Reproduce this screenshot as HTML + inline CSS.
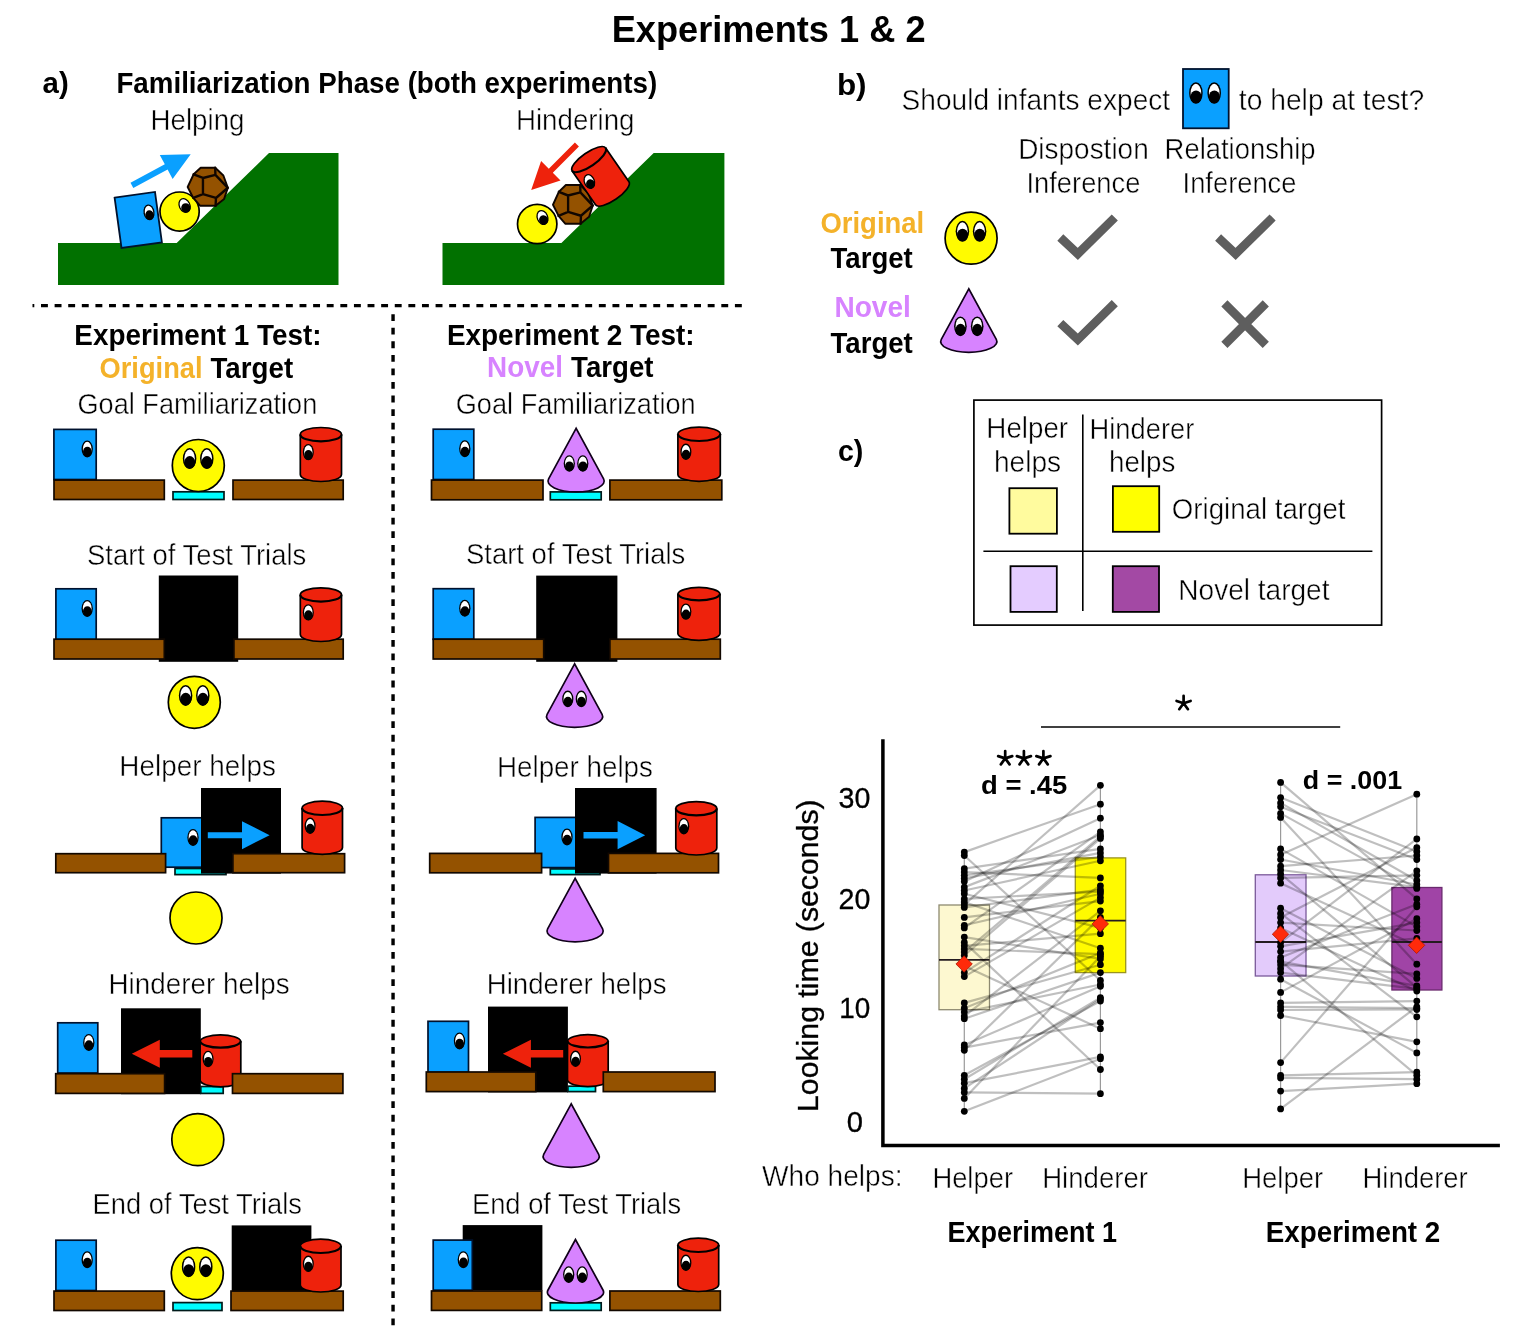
<!DOCTYPE html><html><head><meta charset="utf-8"><title>Experiments 1 &amp; 2</title><style>html,body{margin:0;padding:0;background:#fff;}svg{display:block;will-change:transform;}text{font-family:"Liberation Sans", sans-serif;}</style></head><body>
<svg width="1522" height="1330" viewBox="0 0 1522 1330">
<rect width="1522" height="1330" fill="#fff"/>
<text x="611.73" y="41.6" font-size="36.8" font-weight="bold" fill="#000" textLength="313.81" lengthAdjust="spacingAndGlyphs" >Experiments 1 &amp; 2</text>
<text x="42.60" y="93.3" font-size="29.5" font-weight="bold" fill="#000" textLength="26.12" lengthAdjust="spacingAndGlyphs" >a)</text>
<text x="116.44" y="93.0" font-size="28.8" font-weight="bold" fill="#000" textLength="540.73" lengthAdjust="spacingAndGlyphs" >Familiarization Phase (both experiments)</text>
<text x="150.56" y="129.8" font-size="28.6" font-weight="normal" fill="#000" textLength="93.91" lengthAdjust="spacingAndGlyphs" stroke="#fff" stroke-width="0.45">Helping</text>
<text x="515.96" y="129.8" font-size="28.6" font-weight="normal" fill="#000" textLength="118.51" lengthAdjust="spacingAndGlyphs" stroke="#fff" stroke-width="0.45">Hindering</text>
<path d="M58,243 L176.7,243 L269,153 L338.5,153 L338.5,285 L58,285 Z" fill="#017100"/>
<path d="M442.5,243 L561.4,243 L653.7,153 L724.4,153 L724.4,285 L442.5,285 Z" fill="#017100"/>
<path d="M114.6,197.7 L155,191.9 L161.9,242.5 L121.5,247.9 Z" fill="#0aa0ff" stroke="#00122e" stroke-width="1.8"/>
<g transform="translate(149.0,212.4) rotate(-8)"><ellipse rx="5.50" ry="8.00" fill="#000"/><ellipse rx="4.20" ry="6.70" fill="#fff"/><ellipse cx="0.15" cy="2.75" rx="4.25" ry="4.80" fill="#000"/></g>
<circle cx="179.6" cy="211.6" r="19.6" fill="#fffb00" stroke="#000" stroke-width="1.7"/>
<g transform="translate(184.6,205.5) rotate(-25)"><ellipse rx="5.90" ry="7.80" fill="#000"/><ellipse rx="4.60" ry="6.50" fill="#fff"/><ellipse cx="0.15" cy="2.67" rx="4.65" ry="4.68" fill="#000"/></g>
<g transform="translate(207.8,186.8) rotate(0) scale(0.95,0.985)"><path d="M-7.5,-19.4 L7.8,-19.4 L16.4,-11.5 L21.1,1.0 L17.2,12.3 L8.2,19.3 L-8.2,19.2 L-15.3,11.3 L-21.2,0.2 L-14.9,-12.7 Z" fill="#945200" stroke="#100600" stroke-width="2.0" stroke-linejoin="round"/><path d="M-14.9,-12.7 L-5.1,-9.0 M-5.1,-9.0 L8.0,-12.1 M8.0,-12.1 L7.8,-19.4 M8.0,-12.1 L21.1,1.0 M-5.1,-9.0 L-5.1,7.4 M-5.1,7.4 L-15.3,11.3 M-5.1,7.4 L8.6,11.3 M8.6,11.3 L21.1,1.0 M8.6,11.3 L8.2,19.3" fill="none" stroke="#100600" stroke-width="2.5" stroke-linecap="round"/></g>
<path d="M133.3,188.1 L167.6,169.6 L172.6,178.9 L190.7,154.3 L159.8,154.9 L164.8,164.2 L130.5,182.7 Z" fill="#0aa0ff"/>
<circle cx="537.2" cy="224" r="19.7" fill="#fffb00" stroke="#000" stroke-width="1.7"/>
<g transform="translate(542.5,217.5) rotate(-22)"><ellipse rx="5.80" ry="7.80" fill="#000"/><ellipse rx="4.50" ry="6.50" fill="#fff"/><ellipse cx="0.15" cy="2.67" rx="4.55" ry="4.68" fill="#000"/></g>
<g transform="translate(572.9,204.5) rotate(0) scale(0.94,1.0)"><path d="M-7.5,-19.4 L7.8,-19.4 L16.4,-11.5 L21.1,1.0 L17.2,12.3 L8.2,19.3 L-8.2,19.2 L-15.3,11.3 L-21.2,0.2 L-14.9,-12.7 Z" fill="#945200" stroke="#100600" stroke-width="2.0" stroke-linejoin="round"/><path d="M-14.9,-12.7 L-5.1,-9.0 M-5.1,-9.0 L8.0,-12.1 M8.0,-12.1 L7.8,-19.4 M8.0,-12.1 L21.1,1.0 M-5.1,-9.0 L-5.1,7.4 M-5.1,7.4 L-15.3,11.3 M-5.1,7.4 L8.6,11.3 M8.6,11.3 L21.1,1.0 M8.6,11.3 L8.2,19.3" fill="none" stroke="#100600" stroke-width="2.5" stroke-linecap="round"/></g>
<g transform="translate(588.9,159.4) rotate(-34.5)"><path d="M-20.3,0 L-20.3,41.2 A20.3,6.9 0 0 0 20.3,41.2 L20.3,0 A20.3,6.9 0 0 0 -20.3,0 Z" fill="#ee220c" stroke="#000" stroke-width="1.7"/><path d="M-20.3,0 A20.3,6.9 0 0 0 20.3,0" fill="none" stroke="#000" stroke-width="2.2"/></g>
<g transform="translate(589.4,181.5) rotate(-20)"><ellipse rx="5.60" ry="7.80" fill="#000"/><ellipse rx="4.30" ry="6.50" fill="#fff"/><ellipse cx="0.15" cy="2.67" rx="4.35" ry="4.68" fill="#000"/></g>
<path d="M574.9,142.5 L548.8,168.8 L541.1,161.1 L531.2,190.0 L560.5,180.5 L552.8,172.8 L578.9,146.5 Z" fill="#ee220c"/>
<line x1="32.5" y1="305.7" x2="741.9" y2="305.7" stroke="#000" stroke-width="3.3" stroke-dasharray="6.9 6.706" stroke-dashoffset="5.1"/>
<line x1="393.05" y1="314.2" x2="393.05" y2="1325.3" stroke="#000" stroke-width="3.4" stroke-dasharray="6.8 6.77"/>
<text x="74.33" y="345.3" font-size="28.6" font-weight="bold" fill="#000" textLength="247.13" lengthAdjust="spacingAndGlyphs" >Experiment 1 Test:</text>
<text x="99.55" y="377.5" font-size="28.6" font-weight="bold" fill="#f4b22a" textLength="103.01" lengthAdjust="spacingAndGlyphs" >Original</text>
<text x="210.50" y="377.5" font-size="28.6" font-weight="bold" fill="#000" textLength="82.64" lengthAdjust="spacingAndGlyphs" >Target</text>
<text x="77.46" y="413.8" font-size="28.8" font-weight="normal" fill="#000" textLength="239.80" lengthAdjust="spacingAndGlyphs" stroke="#fff" stroke-width="0.45">Goal Familiarization</text>
<rect x="53.9" y="429.4" width="42.3" height="50.1" fill="#0aa0ff" stroke="#00122e" stroke-width="1.7"/>
<g transform="translate(87.2,449.0) rotate(0)"><ellipse rx="5.65" ry="8.50" fill="#000"/><ellipse rx="4.35" ry="7.20" fill="#fff"/><ellipse cx="0.15" cy="2.95" rx="4.40" ry="5.10" fill="#000"/></g>
<rect x="54.0" y="480.1" width="110.3" height="19.4" fill="#945200" stroke="#120800" stroke-width="1.7"/>
<rect x="173.0" y="491.8" width="51.0" height="7.7" fill="#00fdff" stroke="#001a1a" stroke-width="1.7"/>
<circle cx="198.3" cy="465.5" r="26" fill="#fffb00" stroke="#000" stroke-width="1.7"/>
<g transform="translate(189.6,458.6) rotate(0)"><ellipse rx="6.75" ry="10.50" fill="#000"/><ellipse rx="5.25" ry="9.00" fill="#fff"/><ellipse cx="0.15" cy="3.75" rx="5.50" ry="6.30" fill="#000"/></g>
<g transform="translate(206.8,458.6) rotate(0)"><ellipse rx="6.75" ry="10.50" fill="#000"/><ellipse rx="5.25" ry="9.00" fill="#fff"/><ellipse cx="0.15" cy="3.75" rx="5.50" ry="6.30" fill="#000"/></g>
<rect x="233.0" y="480.1" width="110.2" height="19.4" fill="#945200" stroke="#120800" stroke-width="1.7"/>
<path d="M300.3,434.4 L300.3,474.6 A20.6,6.9 0 0 0 341.5,474.6 L341.5,434.4 A20.6,6.9 0 0 0 300.3,434.4 Z" fill="#ee220c" stroke="#000" stroke-width="1.7"/>
<path d="M300.3,434.4 A20.6,6.9 0 0 0 341.5,434.4" fill="none" stroke="#000" stroke-width="2.2"/>
<g transform="translate(308.3,452.1) rotate(0)"><ellipse rx="5.50" ry="8.20" fill="#000"/><ellipse rx="4.20" ry="6.90" fill="#fff"/><ellipse cx="0.15" cy="2.83" rx="4.25" ry="4.92" fill="#000"/></g>
<text x="86.95" y="564.9" font-size="28.8" font-weight="normal" fill="#000" textLength="219.33" lengthAdjust="spacingAndGlyphs" stroke="#fff" stroke-width="0.45">Start of Test Trials</text>
<rect x="55.9" y="588.8" width="40.3" height="50.8" fill="#0aa0ff" stroke="#00122e" stroke-width="1.7"/>
<g transform="translate(87.2,608.4) rotate(0)"><ellipse rx="5.65" ry="8.50" fill="#000"/><ellipse rx="4.35" ry="7.20" fill="#fff"/><ellipse cx="0.15" cy="2.95" rx="4.40" ry="5.10" fill="#000"/></g>
<rect x="158.8" y="575.5" width="79.4" height="86.3" fill="#000"/>
<rect x="54.0" y="639.2" width="110.3" height="19.8" fill="#945200" stroke="#120800" stroke-width="1.7"/>
<rect x="233.9" y="639.2" width="109.3" height="19.8" fill="#945200" stroke="#120800" stroke-width="1.7"/>
<path d="M300.3,594.7 L300.3,634.6 A20.6,6.9 0 0 0 341.5,634.6 L341.5,594.7 A20.6,6.9 0 0 0 300.3,594.7 Z" fill="#ee220c" stroke="#000" stroke-width="1.7"/>
<path d="M300.3,594.7 A20.6,6.9 0 0 0 341.5,594.7" fill="none" stroke="#000" stroke-width="2.2"/>
<g transform="translate(308.3,612.4) rotate(0)"><ellipse rx="5.50" ry="8.20" fill="#000"/><ellipse rx="4.20" ry="6.90" fill="#fff"/><ellipse cx="0.15" cy="2.83" rx="4.25" ry="4.92" fill="#000"/></g>
<circle cx="194.3" cy="702.3" r="26" fill="#fffb00" stroke="#000" stroke-width="1.7"/>
<g transform="translate(185.6,695.4) rotate(0)"><ellipse rx="6.75" ry="10.50" fill="#000"/><ellipse rx="5.25" ry="9.00" fill="#fff"/><ellipse cx="0.15" cy="3.75" rx="5.50" ry="6.30" fill="#000"/></g>
<g transform="translate(202.8,695.4) rotate(0)"><ellipse rx="6.75" ry="10.50" fill="#000"/><ellipse rx="5.25" ry="9.00" fill="#fff"/><ellipse cx="0.15" cy="3.75" rx="5.50" ry="6.30" fill="#000"/></g>
<text x="119.36" y="775.8" font-size="28.8" font-weight="normal" fill="#000" textLength="156.52" lengthAdjust="spacingAndGlyphs" stroke="#fff" stroke-width="0.45">Helper helps</text>
<rect x="175.0" y="868.5" width="51.0" height="6.1" fill="#00fdff" stroke="#001a1a" stroke-width="1.7"/>
<rect x="161.3" y="817.8" width="40.7" height="49.4" fill="#0aa0ff" stroke="#00122e" stroke-width="1.7"/>
<g transform="translate(193.0,837.4) rotate(0)"><ellipse rx="5.65" ry="8.50" fill="#000"/><ellipse rx="4.35" ry="7.20" fill="#fff"/><ellipse cx="0.15" cy="2.95" rx="4.40" ry="5.10" fill="#000"/></g>
<rect x="201.0" y="788.0" width="80.0" height="85.6" fill="#000"/>
<rect x="55.8" y="853.7" width="109.8" height="19.0" fill="#945200" stroke="#120800" stroke-width="1.7"/>
<rect x="232.9" y="853.7" width="111.7" height="19.0" fill="#945200" stroke="#120800" stroke-width="1.7"/>
<path d="M207.8,832.2 L242.0,832.2 L242.0,821.2 L269.6,835.2 L242.0,849.2 L242.0,838.2 L207.8,838.2 Z" fill="#0aa0ff"/>
<path d="M302.1,808.1 L302.1,847.4 A20.2,6.9 0 0 0 342.5,847.4 L342.5,808.1 A20.2,6.9 0 0 0 302.1,808.1 Z" fill="#ee220c" stroke="#000" stroke-width="1.7"/>
<path d="M302.1,808.1 A20.2,6.9 0 0 0 342.5,808.1" fill="none" stroke="#000" stroke-width="2.2"/>
<g transform="translate(310.1,825.8) rotate(0)"><ellipse rx="5.50" ry="8.20" fill="#000"/><ellipse rx="4.20" ry="6.90" fill="#fff"/><ellipse cx="0.15" cy="2.83" rx="4.25" ry="4.92" fill="#000"/></g>
<circle cx="196.0" cy="918.0" r="26" fill="#fffb00" stroke="#000" stroke-width="1.7"/>
<text x="108.47" y="993.7" font-size="28.8" font-weight="normal" fill="#000" textLength="181.12" lengthAdjust="spacingAndGlyphs" stroke="#fff" stroke-width="0.45">Hinderer helps</text>
<rect x="121.0" y="1008.3" width="79.8" height="85.9" fill="#000"/>
<rect x="57.7" y="1022.8" width="40.1" height="50.2" fill="#0aa0ff" stroke="#00122e" stroke-width="1.7"/>
<g transform="translate(88.8,1042.4) rotate(0)"><ellipse rx="5.65" ry="8.50" fill="#000"/><ellipse rx="4.35" ry="7.20" fill="#fff"/><ellipse cx="0.15" cy="2.95" rx="4.40" ry="5.10" fill="#000"/></g>
<rect x="55.7" y="1073.7" width="108.9" height="19.7" fill="#945200" stroke="#120800" stroke-width="1.7"/>
<rect x="200.8" y="1086.5" width="22.4" height="6.9" fill="#00fdff" stroke="#001a1a" stroke-width="1.7"/>
<path d="M200.1,1041.3 L200.1,1080.5 A20.4,6.9 0 0 0 240.8,1080.5 L240.8,1041.3 A20.4,6.9 0 0 0 200.1,1041.3 Z" fill="#ee220c" stroke="#000" stroke-width="1.7"/>
<path d="M200.1,1041.3 A20.4,6.9 0 0 0 240.8,1041.3" fill="none" stroke="#000" stroke-width="2.2"/>
<g transform="translate(208.1,1059.0) rotate(0)"><ellipse rx="5.50" ry="8.20" fill="#000"/><ellipse rx="4.20" ry="6.90" fill="#fff"/><ellipse cx="0.15" cy="2.83" rx="4.25" ry="4.92" fill="#000"/></g>
<rect x="232.5" y="1073.7" width="110.4" height="19.7" fill="#945200" stroke="#120800" stroke-width="1.7"/>
<path d="M192.3,1049.9 L159.8,1049.9 L159.8,1039.7 L131.8,1053.7 L159.8,1067.7 L159.8,1057.5 L192.3,1057.5 Z" fill="#ee220c"/>
<circle cx="197.8" cy="1139.6" r="26" fill="#fffb00" stroke="#000" stroke-width="1.7"/>
<text x="92.51" y="1213.7" font-size="28.8" font-weight="normal" fill="#000" textLength="209.47" lengthAdjust="spacingAndGlyphs" stroke="#fff" stroke-width="0.45">End of Test Trials</text>
<rect x="55.9" y="1240.2" width="40.3" height="50.3" fill="#0aa0ff" stroke="#00122e" stroke-width="1.7"/>
<g transform="translate(87.2,1259.8) rotate(0)"><ellipse rx="5.65" ry="8.50" fill="#000"/><ellipse rx="4.35" ry="7.20" fill="#fff"/><ellipse cx="0.15" cy="2.95" rx="4.40" ry="5.10" fill="#000"/></g>
<rect x="54.0" y="1291.1" width="110.3" height="19.4" fill="#945200" stroke="#120800" stroke-width="1.7"/>
<rect x="173.0" y="1302.6" width="49.0" height="7.9" fill="#00fdff" stroke="#001a1a" stroke-width="1.7"/>
<circle cx="197.3" cy="1273.6" r="26" fill="#fffb00" stroke="#000" stroke-width="1.7"/>
<g transform="translate(188.6,1266.7) rotate(0)"><ellipse rx="6.75" ry="10.50" fill="#000"/><ellipse rx="5.25" ry="9.00" fill="#fff"/><ellipse cx="0.15" cy="3.75" rx="5.50" ry="6.30" fill="#000"/></g>
<g transform="translate(205.8,1266.7) rotate(0)"><ellipse rx="6.75" ry="10.50" fill="#000"/><ellipse rx="5.25" ry="9.00" fill="#fff"/><ellipse cx="0.15" cy="3.75" rx="5.50" ry="6.30" fill="#000"/></g>
<rect x="231.7" y="1225.4" width="79.7" height="65.6" fill="#000"/>
<rect x="231.0" y="1291.1" width="112.2" height="19.4" fill="#945200" stroke="#120800" stroke-width="1.7"/>
<path d="M300.3,1246.1 L300.3,1285.1 A20.3,6.9 0 0 0 341.0,1285.1 L341.0,1246.1 A20.3,6.9 0 0 0 300.3,1246.1 Z" fill="#ee220c" stroke="#000" stroke-width="1.7"/>
<path d="M300.3,1246.1 A20.3,6.9 0 0 0 341.0,1246.1" fill="none" stroke="#000" stroke-width="2.2"/>
<g transform="translate(308.3,1263.8) rotate(0)"><ellipse rx="5.50" ry="8.20" fill="#000"/><ellipse rx="4.20" ry="6.90" fill="#fff"/><ellipse cx="0.15" cy="2.83" rx="4.25" ry="4.92" fill="#000"/></g>
<text x="446.92" y="345.0" font-size="28.6" font-weight="bold" fill="#000" textLength="247.74" lengthAdjust="spacingAndGlyphs" >Experiment 2 Test:</text>
<text x="487.03" y="377.2" font-size="28.6" font-weight="bold" fill="#d783ff" textLength="75.87" lengthAdjust="spacingAndGlyphs" >Novel</text>
<text x="571.10" y="377.2" font-size="28.6" font-weight="bold" fill="#000" textLength="82.34" lengthAdjust="spacingAndGlyphs" >Target</text>
<text x="455.76" y="414.3" font-size="28.8" font-weight="normal" fill="#000" textLength="239.95" lengthAdjust="spacingAndGlyphs" stroke="#fff" stroke-width="0.45">Goal Familiarization</text>
<rect x="433.2" y="429.2" width="40.6" height="50.3" fill="#0aa0ff" stroke="#00122e" stroke-width="1.7"/>
<g transform="translate(464.8,448.8) rotate(0)"><ellipse rx="5.65" ry="8.50" fill="#000"/><ellipse rx="4.35" ry="7.20" fill="#fff"/><ellipse cx="0.15" cy="2.95" rx="4.40" ry="5.10" fill="#000"/></g>
<rect x="431.5" y="480.1" width="111.5" height="19.7" fill="#945200" stroke="#120800" stroke-width="1.7"/>
<rect x="550.3" y="491.9" width="50.9" height="7.9" fill="#00fdff" stroke="#001a1a" stroke-width="1.7"/>
<path d="M576.1,428.4 L548.6,478.9 A28.1,10.8 0 1 0 603.6,478.9 Z" fill="#d783ff" stroke="#10001a" stroke-width="1.7" stroke-linejoin="miter"/>
<g transform="translate(569.3,463.5) rotate(0)"><ellipse rx="5.60" ry="8.30" fill="#000"/><ellipse rx="4.30" ry="7.00" fill="#fff"/><ellipse cx="0.15" cy="2.87" rx="4.35" ry="4.98" fill="#000"/></g>
<g transform="translate(582.8,463.5) rotate(0)"><ellipse rx="5.60" ry="8.30" fill="#000"/><ellipse rx="4.30" ry="7.00" fill="#fff"/><ellipse cx="0.15" cy="2.87" rx="4.35" ry="4.98" fill="#000"/></g>
<rect x="609.9" y="480.1" width="111.9" height="19.7" fill="#945200" stroke="#120800" stroke-width="1.7"/>
<path d="M677.9,434.1 L677.9,474.4 A21.2,6.9 0 0 0 720.3,474.4 L720.3,434.1 A21.2,6.9 0 0 0 677.9,434.1 Z" fill="#ee220c" stroke="#000" stroke-width="1.7"/>
<path d="M677.9,434.1 A21.2,6.9 0 0 0 720.3,434.1" fill="none" stroke="#000" stroke-width="2.2"/>
<g transform="translate(685.9,451.8) rotate(0)"><ellipse rx="5.50" ry="8.20" fill="#000"/><ellipse rx="4.20" ry="6.90" fill="#fff"/><ellipse cx="0.15" cy="2.83" rx="4.25" ry="4.92" fill="#000"/></g>
<text x="465.95" y="564.2" font-size="28.8" font-weight="normal" fill="#000" textLength="219.43" lengthAdjust="spacingAndGlyphs" stroke="#fff" stroke-width="0.45">Start of Test Trials</text>
<rect x="433.2" y="588.7" width="40.6" height="50.6" fill="#0aa0ff" stroke="#00122e" stroke-width="1.7"/>
<g transform="translate(464.8,608.3) rotate(0)"><ellipse rx="5.65" ry="8.50" fill="#000"/><ellipse rx="4.35" ry="7.20" fill="#fff"/><ellipse cx="0.15" cy="2.95" rx="4.40" ry="5.10" fill="#000"/></g>
<rect x="536.2" y="575.6" width="81.2" height="86.2" fill="#000"/>
<rect x="433.2" y="639.2" width="110.5" height="19.8" fill="#945200" stroke="#120800" stroke-width="1.7"/>
<rect x="609.9" y="639.2" width="110.4" height="19.8" fill="#945200" stroke="#120800" stroke-width="1.7"/>
<path d="M574.6,663.8 L547.1,714.3 A28.1,10.8 0 1 0 602.1,714.3 Z" fill="#d783ff" stroke="#10001a" stroke-width="1.7" stroke-linejoin="miter"/>
<g transform="translate(567.8,698.9) rotate(0)"><ellipse rx="5.60" ry="8.30" fill="#000"/><ellipse rx="4.30" ry="7.00" fill="#fff"/><ellipse cx="0.15" cy="2.87" rx="4.35" ry="4.98" fill="#000"/></g>
<g transform="translate(581.3,698.9) rotate(0)"><ellipse rx="5.60" ry="8.30" fill="#000"/><ellipse rx="4.30" ry="7.00" fill="#fff"/><ellipse cx="0.15" cy="2.87" rx="4.35" ry="4.98" fill="#000"/></g>
<path d="M677.9,593.9 L677.9,633.9 A21.1,6.9 0 0 0 720.0,633.9 L720.0,593.9 A21.1,6.9 0 0 0 677.9,593.9 Z" fill="#ee220c" stroke="#000" stroke-width="1.7"/>
<path d="M677.9,593.9 A21.1,6.9 0 0 0 720.0,593.9" fill="none" stroke="#000" stroke-width="2.2"/>
<g transform="translate(685.9,611.6) rotate(0)"><ellipse rx="5.50" ry="8.20" fill="#000"/><ellipse rx="4.20" ry="6.90" fill="#fff"/><ellipse cx="0.15" cy="2.83" rx="4.25" ry="4.92" fill="#000"/></g>
<text x="496.97" y="776.7" font-size="28.8" font-weight="normal" fill="#000" textLength="156.01" lengthAdjust="spacingAndGlyphs" stroke="#fff" stroke-width="0.45">Helper helps</text>
<rect x="550.3" y="868.9" width="49.7" height="5.7" fill="#00fdff" stroke="#001a1a" stroke-width="1.7"/>
<rect x="535.1" y="817.4" width="40.9" height="50.2" fill="#0aa0ff" stroke="#00122e" stroke-width="1.7"/>
<g transform="translate(567.0,837.0) rotate(0)"><ellipse rx="5.65" ry="8.50" fill="#000"/><ellipse rx="4.35" ry="7.20" fill="#fff"/><ellipse cx="0.15" cy="2.95" rx="4.40" ry="5.10" fill="#000"/></g>
<rect x="575.0" y="788.0" width="81.6" height="85.6" fill="#000"/>
<rect x="429.7" y="853.4" width="111.9" height="19.4" fill="#945200" stroke="#120800" stroke-width="1.7"/>
<rect x="608.5" y="853.4" width="110.0" height="19.4" fill="#945200" stroke="#120800" stroke-width="1.7"/>
<path d="M583.5,832.0 L617.6,832.0 L617.6,821.1 L645.2,835.2 L617.6,849.3 L617.6,838.4 L583.5,838.4 Z" fill="#0aa0ff"/>
<path d="M675.8,808.5 L675.8,848.1 A20.5,6.9 0 0 0 716.8,848.1 L716.8,808.5 A20.5,6.9 0 0 0 675.8,808.5 Z" fill="#ee220c" stroke="#000" stroke-width="1.7"/>
<path d="M675.8,808.5 A20.5,6.9 0 0 0 716.8,808.5" fill="none" stroke="#000" stroke-width="2.2"/>
<g transform="translate(683.8,826.2) rotate(0)"><ellipse rx="5.50" ry="8.20" fill="#000"/><ellipse rx="4.20" ry="6.90" fill="#fff"/><ellipse cx="0.15" cy="2.83" rx="4.25" ry="4.92" fill="#000"/></g>
<path d="M575.1,878.3 L547.6,928.8 A28.1,10.8 0 1 0 602.6,928.8 Z" fill="#d783ff" stroke="#10001a" stroke-width="1.7" stroke-linejoin="miter"/>
<text x="486.78" y="993.8" font-size="28.8" font-weight="normal" fill="#000" textLength="179.70" lengthAdjust="spacingAndGlyphs" stroke="#fff" stroke-width="0.45">Hinderer helps</text>
<rect x="488.0" y="1006.6" width="79.9" height="85.8" fill="#000"/>
<rect x="428.0" y="1021.3" width="40.5" height="51.1" fill="#0aa0ff" stroke="#00122e" stroke-width="1.7"/>
<g transform="translate(459.5,1040.9) rotate(0)"><ellipse rx="5.65" ry="8.50" fill="#000"/><ellipse rx="4.35" ry="7.20" fill="#fff"/><ellipse cx="0.15" cy="2.95" rx="4.40" ry="5.10" fill="#000"/></g>
<rect x="426.3" y="1072.0" width="109.5" height="19.6" fill="#945200" stroke="#120800" stroke-width="1.7"/>
<rect x="567.9" y="1086.2" width="27.6" height="5.4" fill="#00fdff" stroke="#001a1a" stroke-width="1.7"/>
<path d="M567.5,1041.1 L567.5,1080.2 A20.4,6.9 0 0 0 608.2,1080.2 L608.2,1041.1 A20.4,6.9 0 0 0 567.5,1041.1 Z" fill="#ee220c" stroke="#000" stroke-width="1.7"/>
<path d="M567.5,1041.1 A20.4,6.9 0 0 0 608.2,1041.1" fill="none" stroke="#000" stroke-width="2.2"/>
<g transform="translate(575.5,1058.8) rotate(0)"><ellipse rx="5.50" ry="8.20" fill="#000"/><ellipse rx="4.20" ry="6.90" fill="#fff"/><ellipse cx="0.15" cy="2.83" rx="4.25" ry="4.92" fill="#000"/></g>
<rect x="603.3" y="1072.0" width="111.7" height="19.6" fill="#945200" stroke="#120800" stroke-width="1.7"/>
<path d="M563.2,1050.0 L530.9,1050.0 L530.9,1039.8 L502.9,1053.8 L530.9,1067.8 L530.9,1057.5 L563.2,1057.5 Z" fill="#ee220c"/>
<path d="M571.2,1103.8 L543.7,1154.3 A28.1,10.8 0 1 0 598.7,1154.3 Z" fill="#d783ff" stroke="#10001a" stroke-width="1.7" stroke-linejoin="miter"/>
<text x="471.91" y="1213.8" font-size="28.8" font-weight="normal" fill="#000" textLength="209.17" lengthAdjust="spacingAndGlyphs" stroke="#fff" stroke-width="0.45">End of Test Trials</text>
<rect x="462.7" y="1225.1" width="79.7" height="65.5" fill="#000"/>
<rect x="433.2" y="1240.1" width="39.1" height="50.1" fill="#0aa0ff" stroke="#00122e" stroke-width="1.7"/>
<g transform="translate(463.3,1259.7) rotate(0)"><ellipse rx="5.65" ry="8.50" fill="#000"/><ellipse rx="4.35" ry="7.20" fill="#fff"/><ellipse cx="0.15" cy="2.95" rx="4.40" ry="5.10" fill="#000"/></g>
<rect x="431.5" y="1291.0" width="110.2" height="19.4" fill="#945200" stroke="#120800" stroke-width="1.7"/>
<rect x="550.3" y="1302.8" width="50.9" height="7.6" fill="#00fdff" stroke="#001a1a" stroke-width="1.7"/>
<path d="M575.5,1239.5 L548.0,1290.0 A28.1,10.8 0 1 0 603.0,1290.0 Z" fill="#d783ff" stroke="#10001a" stroke-width="1.7" stroke-linejoin="miter"/>
<g transform="translate(568.7,1274.6) rotate(0)"><ellipse rx="5.60" ry="8.30" fill="#000"/><ellipse rx="4.30" ry="7.00" fill="#fff"/><ellipse cx="0.15" cy="2.87" rx="4.35" ry="4.98" fill="#000"/></g>
<g transform="translate(582.2,1274.6) rotate(0)"><ellipse rx="5.60" ry="8.30" fill="#000"/><ellipse rx="4.30" ry="7.00" fill="#fff"/><ellipse cx="0.15" cy="2.87" rx="4.35" ry="4.98" fill="#000"/></g>
<rect x="609.9" y="1291.0" width="110.4" height="19.4" fill="#945200" stroke="#120800" stroke-width="1.7"/>
<path d="M677.9,1245.1 L677.9,1284.6 A20.4,6.9 0 0 0 718.7,1284.6 L718.7,1245.1 A20.4,6.9 0 0 0 677.9,1245.1 Z" fill="#ee220c" stroke="#000" stroke-width="1.7"/>
<path d="M677.9,1245.1 A20.4,6.9 0 0 0 718.7,1245.1" fill="none" stroke="#000" stroke-width="2.2"/>
<g transform="translate(685.9,1262.8) rotate(0)"><ellipse rx="5.50" ry="8.20" fill="#000"/><ellipse rx="4.20" ry="6.90" fill="#fff"/><ellipse cx="0.15" cy="2.83" rx="4.25" ry="4.92" fill="#000"/></g>
<text x="836.94" y="94.7" font-size="29.5" font-weight="bold" fill="#000" textLength="29.64" lengthAdjust="spacingAndGlyphs" >b)</text>
<text x="901.62" y="109.5" font-size="28.8" font-weight="normal" fill="#000" textLength="268.48" lengthAdjust="spacingAndGlyphs" stroke="#fff" stroke-width="0.45">Should infants expect</text>
<rect x="1183" y="69" width="45.7" height="59.3" fill="#0aa0ff" stroke="#00122e" stroke-width="1.8"/>
<g transform="translate(1195.9,93.0) rotate(0)"><ellipse rx="6.80" ry="10.80" fill="#000"/><ellipse rx="5.30" ry="9.30" fill="#fff"/><ellipse cx="0.15" cy="3.87" rx="5.55" ry="6.48" fill="#000"/></g>
<g transform="translate(1214.2,93.0) rotate(0)"><ellipse rx="6.80" ry="10.80" fill="#000"/><ellipse rx="5.30" ry="9.30" fill="#fff"/><ellipse cx="0.15" cy="3.87" rx="5.55" ry="6.48" fill="#000"/></g>
<text x="1238.80" y="109.5" font-size="28.8" font-weight="normal" fill="#000" textLength="185.30" lengthAdjust="spacingAndGlyphs" stroke="#fff" stroke-width="0.45">to help at test?</text>
<text x="1018.16" y="159.4" font-size="28.8" font-weight="normal" fill="#000" textLength="130.53" lengthAdjust="spacingAndGlyphs" stroke="#fff" stroke-width="0.45">Dispostion</text>
<text x="1026.50" y="193.0" font-size="28.8" font-weight="normal" fill="#000" textLength="113.86" lengthAdjust="spacingAndGlyphs" stroke="#fff" stroke-width="0.45">Inference</text>
<text x="1164.59" y="159.4" font-size="28.8" font-weight="normal" fill="#000" textLength="150.97" lengthAdjust="spacingAndGlyphs" stroke="#fff" stroke-width="0.45">Relationship</text>
<text x="1182.60" y="193.0" font-size="28.8" font-weight="normal" fill="#000" textLength="113.86" lengthAdjust="spacingAndGlyphs" stroke="#fff" stroke-width="0.45">Inference</text>
<text x="820.45" y="232.5" font-size="28.8" font-weight="bold" fill="#f4b22a" textLength="103.76" lengthAdjust="spacingAndGlyphs" >Original</text>
<text x="830.50" y="268.0" font-size="28.8" font-weight="bold" fill="#000" textLength="82.31" lengthAdjust="spacingAndGlyphs" >Target</text>
<text x="834.43" y="317.2" font-size="28.8" font-weight="bold" fill="#d783ff" textLength="76.42" lengthAdjust="spacingAndGlyphs" >Novel</text>
<text x="830.50" y="352.9" font-size="28.8" font-weight="bold" fill="#000" textLength="82.31" lengthAdjust="spacingAndGlyphs" >Target</text>
<circle cx="971.1" cy="238.2" r="26" fill="#fffb00" stroke="#000" stroke-width="1.7"/>
<g transform="translate(962.4,231.3) rotate(0)"><ellipse rx="6.75" ry="10.50" fill="#000"/><ellipse rx="5.25" ry="9.00" fill="#fff"/><ellipse cx="0.15" cy="3.75" rx="5.50" ry="6.30" fill="#000"/></g>
<g transform="translate(979.6,231.3) rotate(0)"><ellipse rx="6.75" ry="10.50" fill="#000"/><ellipse rx="5.25" ry="9.00" fill="#fff"/><ellipse cx="0.15" cy="3.75" rx="5.50" ry="6.30" fill="#000"/></g>
<path d="M968.8,288.8 L941.3,339.3 A28.1,10.8 0 1 0 996.3,339.3 Z" fill="#d783ff" stroke="#10001a" stroke-width="1.7" stroke-linejoin="miter"/>
<g transform="translate(960.4,326.3) rotate(0)"><ellipse rx="6.30" ry="9.90" fill="#000"/><ellipse rx="4.80" ry="8.40" fill="#fff"/><ellipse cx="0.15" cy="3.51" rx="5.05" ry="5.94" fill="#000"/></g>
<g transform="translate(977.2,326.3) rotate(0)"><ellipse rx="6.30" ry="9.90" fill="#000"/><ellipse rx="4.80" ry="8.40" fill="#fff"/><ellipse cx="0.15" cy="3.51" rx="5.05" ry="5.94" fill="#000"/></g>
<path d="M1060.3,237.5 L1077.8,253.9 L1114.8,217.5" fill="none" stroke="#5e5e5e" stroke-width="8.7" stroke-linejoin="miter"/>
<path d="M1218.1,237.5 L1235.6,253.9 L1272.6,217.5" fill="none" stroke="#5e5e5e" stroke-width="8.7" stroke-linejoin="miter"/>
<path d="M1060.3,323.1 L1077.8,339.5 L1114.8,303.1" fill="none" stroke="#5e5e5e" stroke-width="8.7" stroke-linejoin="miter"/>
<path d="M1224.4,303.4 L1265.8,344.8 M1265.8,303.4 L1224.4,344.8" fill="none" stroke="#5e5e5e" stroke-width="8.7"/>
<text x="837.93" y="460.8" font-size="29.5" font-weight="bold" fill="#000" textLength="25.47" lengthAdjust="spacingAndGlyphs" >c)</text>
<rect x="973.9" y="400.1" width="407.7" height="225" fill="none" stroke="#000" stroke-width="1.7"/>
<line x1="1082.8" y1="414.4" x2="1082.8" y2="611.1" stroke="#000" stroke-width="1.6"/>
<line x1="983.4" y1="551.2" x2="1372.4" y2="551.2" stroke="#000" stroke-width="1.6"/>
<rect x="1009.4" y="488.2" width="47.5" height="45.5" fill="#fffb9e" stroke="#000" stroke-width="1.8"/>
<rect x="1112.9" y="486.2" width="46.3" height="45.6" fill="#ffff00" stroke="#000" stroke-width="1.8"/>
<rect x="1010.5" y="566.2" width="46.3" height="45.7" fill="#e4ccff" stroke="#000" stroke-width="1.8"/>
<rect x="1112.8" y="566.2" width="46.2" height="45.7" fill="#a349a4" stroke="#000" stroke-width="1.8"/>
<text x="986.37" y="438.1" font-size="28.8" font-weight="normal" fill="#000" textLength="81.73" lengthAdjust="spacingAndGlyphs" stroke="#fff" stroke-width="0.45">Helper</text>
<text x="993.95" y="471.5" font-size="28.8" font-weight="normal" fill="#000" textLength="67.24" lengthAdjust="spacingAndGlyphs" stroke="#fff" stroke-width="0.45">helps</text>
<text x="1089.61" y="438.8" font-size="28.8" font-weight="normal" fill="#000" textLength="104.61" lengthAdjust="spacingAndGlyphs" stroke="#fff" stroke-width="0.45">Hinderer</text>
<text x="1108.97" y="472.0" font-size="28.8" font-weight="normal" fill="#000" textLength="66.31" lengthAdjust="spacingAndGlyphs" stroke="#fff" stroke-width="0.45">helps</text>
<text x="1171.84" y="518.8" font-size="28.8" font-weight="normal" fill="#000" textLength="173.66" lengthAdjust="spacingAndGlyphs" stroke="#fff" stroke-width="0.45">Original target</text>
<text x="1178.35" y="599.8" font-size="28.8" font-weight="normal" fill="#000" textLength="151.15" lengthAdjust="spacingAndGlyphs" stroke="#fff" stroke-width="0.45">Novel target</text>
<line x1="1041" y1="726.9" x2="1340.2" y2="726.9" stroke="#000" stroke-width="1.5"/>
<path d="M1183.6,703.2 L1183.60,695.80 M1183.6,703.2 L1190.64,700.91 M1183.6,703.2 L1187.95,709.19 M1183.6,703.2 L1179.25,709.19 M1183.6,703.2 L1176.56,700.91" stroke="#000" stroke-width="2.7" stroke-linecap="round" fill="none"/>
<path d="M1005.2,758.4 L1005.20,751.00 M1005.2,758.4 L1012.24,756.11 M1005.2,758.4 L1009.55,764.39 M1005.2,758.4 L1000.85,764.39 M1005.2,758.4 L998.16,756.11" stroke="#000" stroke-width="2.7" stroke-linecap="round" fill="none"/>
<path d="M1023.9,758.4 L1023.90,751.00 M1023.9,758.4 L1030.94,756.11 M1023.9,758.4 L1028.25,764.39 M1023.9,758.4 L1019.55,764.39 M1023.9,758.4 L1016.86,756.11" stroke="#000" stroke-width="2.7" stroke-linecap="round" fill="none"/>
<path d="M1043.4,758.4 L1043.40,751.00 M1043.4,758.4 L1050.44,756.11 M1043.4,758.4 L1047.75,764.39 M1043.4,758.4 L1039.05,764.39 M1043.4,758.4 L1036.36,756.11" stroke="#000" stroke-width="2.7" stroke-linecap="round" fill="none"/>
<text x="981.00" y="794.2" font-size="25" font-weight="bold" fill="#000" textLength="86.19" lengthAdjust="spacingAndGlyphs" >d = .45</text>
<text x="1302.85" y="789.4" font-size="25.5" font-weight="bold" fill="#000" textLength="99.24" lengthAdjust="spacingAndGlyphs" >d = .001</text>
<line x1="964.3" y1="852.1" x2="964.3" y2="1111.3" stroke="#9a9a9a" stroke-width="1.2"/>
<line x1="1100.4" y1="785.3" x2="1100.4" y2="1093.7" stroke="#9a9a9a" stroke-width="1.2"/>
<line x1="1280.6" y1="782.4" x2="1280.6" y2="1108.9" stroke="#9a9a9a" stroke-width="1.2"/>
<line x1="1416.8" y1="794.2" x2="1416.8" y2="1083.7" stroke="#9a9a9a" stroke-width="1.2"/>
<rect x="939" y="905" width="50.5" height="104.7" fill="#fdf8d0" fill-opacity="1" stroke="#8e8a70" stroke-width="1.3"/>
<rect x="1075.3" y="857.9" width="50.4" height="114.7" fill="#fffa00" fill-opacity="1" stroke="#9a9420" stroke-width="1.3"/>
<rect x="1255.3" y="874.8" width="50.7" height="101.2" fill="#e3cbfb" fill-opacity="1" stroke="#7a5a9a" stroke-width="1.3"/>
<rect x="1391.9" y="887.5" width="50.0" height="102.5" fill="#a044a6" fill-opacity="1" stroke="#6a2a6e" stroke-width="1.3"/>
<line x1="939" y1="959.9" x2="989.5" y2="959.9" stroke="#241c20" stroke-width="1.8"/>
<line x1="1075.3" y1="920.6" x2="1125.7" y2="920.6" stroke="#241c20" stroke-width="1.8"/>
<line x1="1255.3" y1="942" x2="1306" y2="942" stroke="#241c20" stroke-width="1.8"/>
<line x1="1391.9" y1="942" x2="1441.9" y2="942" stroke="#241c20" stroke-width="1.8"/>
<g stroke="#000" stroke-opacity="0.25" stroke-width="2.2" fill="none">
<line x1="964.3" y1="1111.3" x2="1100.4" y2="1058.7"/>
<line x1="964.3" y1="1092.4" x2="1100.4" y2="1093.7"/>
<line x1="964.3" y1="1083.2" x2="1100.4" y2="1056.8"/>
<line x1="964.3" y1="1047.6" x2="1100.4" y2="1022.6"/>
<line x1="964.3" y1="942.4" x2="1100.4" y2="1069.5"/>
<line x1="964.3" y1="966.1" x2="1100.4" y2="1028.7"/>
<line x1="964.3" y1="904.7" x2="1100.4" y2="785.3"/>
<line x1="964.3" y1="881.6" x2="1100.4" y2="818.2"/>
<line x1="964.3" y1="852.1" x2="1100.4" y2="804.2"/>
<line x1="964.3" y1="855.5" x2="1100.4" y2="980.5"/>
<line x1="964.3" y1="927.9" x2="1100.4" y2="831.8"/>
<line x1="964.3" y1="887.1" x2="1100.4" y2="835.0"/>
<line x1="964.3" y1="952.1" x2="1100.4" y2="836.3"/>
<line x1="964.3" y1="955.5" x2="1100.4" y2="838.4"/>
<line x1="964.3" y1="868.7" x2="1100.4" y2="848.9"/>
<line x1="964.3" y1="878.4" x2="1100.4" y2="852.9"/>
<line x1="964.3" y1="875.3" x2="1100.4" y2="856.8"/>
<line x1="964.3" y1="890.5" x2="1100.4" y2="860.8"/>
<line x1="964.3" y1="872.1" x2="1100.4" y2="877.9"/>
<line x1="964.3" y1="972.6" x2="1100.4" y2="885.8"/>
<line x1="964.3" y1="907.4" x2="1100.4" y2="889.7"/>
<line x1="964.3" y1="898.9" x2="1100.4" y2="891.6"/>
<line x1="964.3" y1="925.3" x2="1100.4" y2="893.7"/>
<line x1="964.3" y1="976.6" x2="1100.4" y2="897.6"/>
<line x1="964.3" y1="917.4" x2="1100.4" y2="901.1"/>
<line x1="964.3" y1="1016.1" x2="1100.4" y2="910.8"/>
<line x1="964.3" y1="1050.3" x2="1100.4" y2="917.4"/>
<line x1="964.3" y1="893.7" x2="1100.4" y2="927.9"/>
<line x1="964.3" y1="945.8" x2="1100.4" y2="933.7"/>
<line x1="964.3" y1="902.1" x2="1100.4" y2="948.2"/>
<line x1="964.3" y1="1008.2" x2="1100.4" y2="952.9"/>
<line x1="964.3" y1="948.9" x2="1100.4" y2="954.2"/>
<line x1="964.3" y1="1098.4" x2="1100.4" y2="956.3"/>
<line x1="964.3" y1="937.1" x2="1100.4" y2="958.9"/>
<line x1="964.3" y1="1002.9" x2="1100.4" y2="964.7"/>
<line x1="964.3" y1="1018.7" x2="1100.4" y2="972.6"/>
<line x1="964.3" y1="1012.1" x2="1100.4" y2="984.5"/>
<line x1="964.3" y1="1045.0" x2="1100.4" y2="986.3"/>
<line x1="964.3" y1="1079.2" x2="1100.4" y2="997.6"/>
<line x1="964.3" y1="1088.4" x2="1100.4" y2="998.9"/>
<line x1="964.3" y1="1075.3" x2="1100.4" y2="1001.1"/>
<line x1="1280.6" y1="1108.9" x2="1416.8" y2="1006.8"/>
<line x1="1280.6" y1="1091.1" x2="1416.8" y2="1083.7"/>
<line x1="1280.6" y1="1075.3" x2="1416.8" y2="1072.1"/>
<line x1="1280.6" y1="1077.9" x2="1416.8" y2="1079.2"/>
<line x1="1280.6" y1="854.7" x2="1416.8" y2="794.2"/>
<line x1="1280.6" y1="782.4" x2="1416.8" y2="898.9"/>
<line x1="1280.6" y1="806.8" x2="1416.8" y2="859.5"/>
<line x1="1280.6" y1="1062.6" x2="1416.8" y2="906.8"/>
<line x1="1280.6" y1="1015.5" x2="1416.8" y2="1041.8"/>
<line x1="1280.6" y1="979.2" x2="1416.8" y2="1052.9"/>
<line x1="1280.6" y1="960.8" x2="1416.8" y2="1075.3"/>
<line x1="1280.6" y1="913.4" x2="1416.8" y2="1016.8"/>
<line x1="1280.6" y1="1002.9" x2="1416.8" y2="1001.1"/>
<line x1="1280.6" y1="1006.8" x2="1416.8" y2="1008.2"/>
<line x1="1280.6" y1="1010.0" x2="1416.8" y2="1009.5"/>
<line x1="1280.6" y1="992.4" x2="1416.8" y2="918.7"/>
<line x1="1280.6" y1="942.4" x2="1416.8" y2="838.9"/>
<line x1="1280.6" y1="917.4" x2="1416.8" y2="847.6"/>
<line x1="1280.6" y1="797.6" x2="1416.8" y2="851.6"/>
<line x1="1280.6" y1="866.1" x2="1416.8" y2="855.5"/>
<line x1="1280.6" y1="968.7" x2="1416.8" y2="870.8"/>
<line x1="1280.6" y1="877.9" x2="1416.8" y2="875.3"/>
<line x1="1280.6" y1="802.9" x2="1416.8" y2="880.5"/>
<line x1="1280.6" y1="859.5" x2="1416.8" y2="884.5"/>
<line x1="1280.6" y1="870.0" x2="1416.8" y2="887.1"/>
<line x1="1280.6" y1="813.4" x2="1416.8" y2="888.4"/>
<line x1="1280.6" y1="957.4" x2="1416.8" y2="904.2"/>
<line x1="1280.6" y1="946.3" x2="1416.8" y2="922.6"/>
<line x1="1280.6" y1="848.9" x2="1416.8" y2="926.6"/>
<line x1="1280.6" y1="922.6" x2="1416.8" y2="930.5"/>
<line x1="1280.6" y1="951.6" x2="1416.8" y2="938.4"/>
<line x1="1280.6" y1="883.2" x2="1416.8" y2="945.8"/>
<line x1="1280.6" y1="817.4" x2="1416.8" y2="964.2"/>
<line x1="1280.6" y1="964.7" x2="1416.8" y2="973.9"/>
<line x1="1280.6" y1="908.2" x2="1416.8" y2="978.4"/>
<line x1="1280.6" y1="961.6" x2="1416.8" y2="985.8"/>
<line x1="1280.6" y1="873.9" x2="1416.8" y2="987.4"/>
<line x1="1280.6" y1="972.6" x2="1416.8" y2="988.9"/>
<line x1="1280.6" y1="927.9" x2="1416.8" y2="991.1"/>
</g>
<g fill="#000">
<circle cx="964.3" cy="852.1" r="3.4"/>
<circle cx="964.3" cy="855.5" r="3.4"/>
<circle cx="964.3" cy="868.7" r="3.4"/>
<circle cx="964.3" cy="872.1" r="3.4"/>
<circle cx="964.3" cy="875.3" r="3.4"/>
<circle cx="964.3" cy="878.4" r="3.4"/>
<circle cx="964.3" cy="881.6" r="3.4"/>
<circle cx="964.3" cy="887.1" r="3.4"/>
<circle cx="964.3" cy="890.5" r="3.4"/>
<circle cx="964.3" cy="893.7" r="3.4"/>
<circle cx="964.3" cy="898.9" r="3.4"/>
<circle cx="964.3" cy="902.1" r="3.4"/>
<circle cx="964.3" cy="904.7" r="3.4"/>
<circle cx="964.3" cy="907.4" r="3.4"/>
<circle cx="964.3" cy="917.4" r="3.4"/>
<circle cx="964.3" cy="925.3" r="3.4"/>
<circle cx="964.3" cy="927.9" r="3.4"/>
<circle cx="964.3" cy="937.1" r="3.4"/>
<circle cx="964.3" cy="942.4" r="3.4"/>
<circle cx="964.3" cy="945.8" r="3.4"/>
<circle cx="964.3" cy="948.9" r="3.4"/>
<circle cx="964.3" cy="952.1" r="3.4"/>
<circle cx="964.3" cy="955.5" r="3.4"/>
<circle cx="964.3" cy="966.1" r="3.4"/>
<circle cx="964.3" cy="972.6" r="3.4"/>
<circle cx="964.3" cy="976.6" r="3.4"/>
<circle cx="964.3" cy="1002.9" r="3.4"/>
<circle cx="964.3" cy="1008.2" r="3.4"/>
<circle cx="964.3" cy="1012.1" r="3.4"/>
<circle cx="964.3" cy="1016.1" r="3.4"/>
<circle cx="964.3" cy="1018.7" r="3.4"/>
<circle cx="964.3" cy="1045.0" r="3.4"/>
<circle cx="964.3" cy="1047.6" r="3.4"/>
<circle cx="964.3" cy="1050.3" r="3.4"/>
<circle cx="964.3" cy="1075.3" r="3.4"/>
<circle cx="964.3" cy="1079.2" r="3.4"/>
<circle cx="964.3" cy="1083.2" r="3.4"/>
<circle cx="964.3" cy="1088.4" r="3.4"/>
<circle cx="964.3" cy="1092.4" r="3.4"/>
<circle cx="964.3" cy="1098.4" r="3.4"/>
<circle cx="964.3" cy="1111.3" r="3.4"/>
<circle cx="1100.4" cy="785.3" r="3.4"/>
<circle cx="1100.4" cy="804.2" r="3.4"/>
<circle cx="1100.4" cy="818.2" r="3.4"/>
<circle cx="1100.4" cy="831.8" r="3.4"/>
<circle cx="1100.4" cy="835.0" r="3.4"/>
<circle cx="1100.4" cy="836.3" r="3.4"/>
<circle cx="1100.4" cy="838.4" r="3.4"/>
<circle cx="1100.4" cy="848.9" r="3.4"/>
<circle cx="1100.4" cy="852.9" r="3.4"/>
<circle cx="1100.4" cy="856.8" r="3.4"/>
<circle cx="1100.4" cy="860.8" r="3.4"/>
<circle cx="1100.4" cy="877.9" r="3.4"/>
<circle cx="1100.4" cy="885.8" r="3.4"/>
<circle cx="1100.4" cy="889.7" r="3.4"/>
<circle cx="1100.4" cy="891.6" r="3.4"/>
<circle cx="1100.4" cy="893.7" r="3.4"/>
<circle cx="1100.4" cy="897.6" r="3.4"/>
<circle cx="1100.4" cy="901.1" r="3.4"/>
<circle cx="1100.4" cy="910.8" r="3.4"/>
<circle cx="1100.4" cy="917.4" r="3.4"/>
<circle cx="1100.4" cy="927.9" r="3.4"/>
<circle cx="1100.4" cy="933.7" r="3.4"/>
<circle cx="1100.4" cy="948.2" r="3.4"/>
<circle cx="1100.4" cy="952.9" r="3.4"/>
<circle cx="1100.4" cy="954.2" r="3.4"/>
<circle cx="1100.4" cy="956.3" r="3.4"/>
<circle cx="1100.4" cy="958.9" r="3.4"/>
<circle cx="1100.4" cy="964.7" r="3.4"/>
<circle cx="1100.4" cy="972.6" r="3.4"/>
<circle cx="1100.4" cy="980.5" r="3.4"/>
<circle cx="1100.4" cy="984.5" r="3.4"/>
<circle cx="1100.4" cy="986.3" r="3.4"/>
<circle cx="1100.4" cy="997.6" r="3.4"/>
<circle cx="1100.4" cy="998.9" r="3.4"/>
<circle cx="1100.4" cy="1001.1" r="3.4"/>
<circle cx="1100.4" cy="1022.6" r="3.4"/>
<circle cx="1100.4" cy="1028.7" r="3.4"/>
<circle cx="1100.4" cy="1056.8" r="3.4"/>
<circle cx="1100.4" cy="1058.7" r="3.4"/>
<circle cx="1100.4" cy="1069.5" r="3.4"/>
<circle cx="1100.4" cy="1093.7" r="3.4"/>
<circle cx="1280.6" cy="782.4" r="3.4"/>
<circle cx="1280.6" cy="797.6" r="3.4"/>
<circle cx="1280.6" cy="802.9" r="3.4"/>
<circle cx="1280.6" cy="806.8" r="3.4"/>
<circle cx="1280.6" cy="813.4" r="3.4"/>
<circle cx="1280.6" cy="817.4" r="3.4"/>
<circle cx="1280.6" cy="848.9" r="3.4"/>
<circle cx="1280.6" cy="854.7" r="3.4"/>
<circle cx="1280.6" cy="859.5" r="3.4"/>
<circle cx="1280.6" cy="866.1" r="3.4"/>
<circle cx="1280.6" cy="870.0" r="3.4"/>
<circle cx="1280.6" cy="873.9" r="3.4"/>
<circle cx="1280.6" cy="877.9" r="3.4"/>
<circle cx="1280.6" cy="883.2" r="3.4"/>
<circle cx="1280.6" cy="908.2" r="3.4"/>
<circle cx="1280.6" cy="913.4" r="3.4"/>
<circle cx="1280.6" cy="917.4" r="3.4"/>
<circle cx="1280.6" cy="922.6" r="3.4"/>
<circle cx="1280.6" cy="927.9" r="3.4"/>
<circle cx="1280.6" cy="942.4" r="3.4"/>
<circle cx="1280.6" cy="946.3" r="3.4"/>
<circle cx="1280.6" cy="951.6" r="3.4"/>
<circle cx="1280.6" cy="957.4" r="3.4"/>
<circle cx="1280.6" cy="960.8" r="3.4"/>
<circle cx="1280.6" cy="961.6" r="3.4"/>
<circle cx="1280.6" cy="964.7" r="3.4"/>
<circle cx="1280.6" cy="968.7" r="3.4"/>
<circle cx="1280.6" cy="972.6" r="3.4"/>
<circle cx="1280.6" cy="979.2" r="3.4"/>
<circle cx="1280.6" cy="992.4" r="3.4"/>
<circle cx="1280.6" cy="1002.9" r="3.4"/>
<circle cx="1280.6" cy="1006.8" r="3.4"/>
<circle cx="1280.6" cy="1010.0" r="3.4"/>
<circle cx="1280.6" cy="1015.5" r="3.4"/>
<circle cx="1280.6" cy="1062.6" r="3.4"/>
<circle cx="1280.6" cy="1075.3" r="3.4"/>
<circle cx="1280.6" cy="1077.9" r="3.4"/>
<circle cx="1280.6" cy="1091.1" r="3.4"/>
<circle cx="1280.6" cy="1108.9" r="3.4"/>
<circle cx="1416.8" cy="794.2" r="3.4"/>
<circle cx="1416.8" cy="838.9" r="3.4"/>
<circle cx="1416.8" cy="847.6" r="3.4"/>
<circle cx="1416.8" cy="851.6" r="3.4"/>
<circle cx="1416.8" cy="855.5" r="3.4"/>
<circle cx="1416.8" cy="859.5" r="3.4"/>
<circle cx="1416.8" cy="870.8" r="3.4"/>
<circle cx="1416.8" cy="875.3" r="3.4"/>
<circle cx="1416.8" cy="880.5" r="3.4"/>
<circle cx="1416.8" cy="884.5" r="3.4"/>
<circle cx="1416.8" cy="887.1" r="3.4"/>
<circle cx="1416.8" cy="888.4" r="3.4"/>
<circle cx="1416.8" cy="898.9" r="3.4"/>
<circle cx="1416.8" cy="904.2" r="3.4"/>
<circle cx="1416.8" cy="906.8" r="3.4"/>
<circle cx="1416.8" cy="918.7" r="3.4"/>
<circle cx="1416.8" cy="922.6" r="3.4"/>
<circle cx="1416.8" cy="926.6" r="3.4"/>
<circle cx="1416.8" cy="930.5" r="3.4"/>
<circle cx="1416.8" cy="938.4" r="3.4"/>
<circle cx="1416.8" cy="945.8" r="3.4"/>
<circle cx="1416.8" cy="964.2" r="3.4"/>
<circle cx="1416.8" cy="973.9" r="3.4"/>
<circle cx="1416.8" cy="978.4" r="3.4"/>
<circle cx="1416.8" cy="985.8" r="3.4"/>
<circle cx="1416.8" cy="987.4" r="3.4"/>
<circle cx="1416.8" cy="988.9" r="3.4"/>
<circle cx="1416.8" cy="991.1" r="3.4"/>
<circle cx="1416.8" cy="1001.1" r="3.4"/>
<circle cx="1416.8" cy="1006.8" r="3.4"/>
<circle cx="1416.8" cy="1008.2" r="3.4"/>
<circle cx="1416.8" cy="1009.5" r="3.4"/>
<circle cx="1416.8" cy="1016.8" r="3.4"/>
<circle cx="1416.8" cy="1041.8" r="3.4"/>
<circle cx="1416.8" cy="1052.9" r="3.4"/>
<circle cx="1416.8" cy="1072.1" r="3.4"/>
<circle cx="1416.8" cy="1075.3" r="3.4"/>
<circle cx="1416.8" cy="1079.2" r="3.4"/>
<circle cx="1416.8" cy="1083.7" r="3.4"/>
</g>
<path d="M955.9,964 L964.1,955.8 L972.3000000000001,964 L964.1,972.2 Z" fill="#ff2a0a" stroke="#b01800" stroke-width="0.8"/>
<path d="M1092.1,923.9 L1100.3,915.6999999999999 L1108.5,923.9 L1100.3,932.1 Z" fill="#ff2a0a" stroke="#b01800" stroke-width="0.8"/>
<path d="M1272.3,934.2 L1280.5,926.0 L1288.7,934.2 L1280.5,942.4000000000001 Z" fill="#ff2a0a" stroke="#b01800" stroke-width="0.8"/>
<path d="M1408.3999999999999,945.3 L1416.6,937.0999999999999 L1424.8,945.3 L1416.6,953.5 Z" fill="#ff2a0a" stroke="#b01800" stroke-width="0.8"/>
<path d="M882.9,739.2 L882.9,1145.4 L1499.9,1145.4" fill="none" stroke="#000" stroke-width="3.5" stroke-linejoin="miter"/>
<text x="838.51" y="807.7" font-size="28.8" font-weight="normal" fill="#000" textLength="31.80" lengthAdjust="spacingAndGlyphs" stroke="#000" stroke-width="0.3">30</text>
<text x="838.51" y="909.3" font-size="28.8" font-weight="normal" fill="#000" textLength="31.80" lengthAdjust="spacingAndGlyphs" stroke="#000" stroke-width="0.3">20</text>
<text x="839.26" y="1017.8" font-size="28.8" font-weight="normal" fill="#000" textLength="31.02" lengthAdjust="spacingAndGlyphs" stroke="#000" stroke-width="0.3">10</text>
<text x="846.79" y="1132.0" font-size="28.8" font-weight="normal" fill="#000" textLength="16.24" lengthAdjust="spacingAndGlyphs" stroke="#000" stroke-width="0.3">0</text>
<g transform="translate(817.8,1109.85) rotate(-90)">
<text x="-2.10" y="0.0" font-size="28.8" font-weight="normal" fill="#000" textLength="312.52" lengthAdjust="spacingAndGlyphs" stroke="#000" stroke-width="0.3">Looking time (seconds)</text>
</g>
<text x="762.00" y="1186.2" font-size="28.8" font-weight="normal" fill="#000" textLength="140.55" lengthAdjust="spacingAndGlyphs" stroke="#fff" stroke-width="0.45">Who helps:</text>
<text x="932.40" y="1188.0" font-size="28.8" font-weight="normal" fill="#000" textLength="80.61" lengthAdjust="spacingAndGlyphs" stroke="#fff" stroke-width="0.45">Helper</text>
<text x="1042.19" y="1188.0" font-size="28.8" font-weight="normal" fill="#000" textLength="105.72" lengthAdjust="spacingAndGlyphs" stroke="#fff" stroke-width="0.45">Hinderer</text>
<text x="1242.19" y="1188.0" font-size="28.8" font-weight="normal" fill="#000" textLength="81.02" lengthAdjust="spacingAndGlyphs" stroke="#fff" stroke-width="0.45">Helper</text>
<text x="1362.49" y="1188.0" font-size="28.8" font-weight="normal" fill="#000" textLength="105.21" lengthAdjust="spacingAndGlyphs" stroke="#fff" stroke-width="0.45">Hinderer</text>
<text x="947.56" y="1241.7" font-size="28.6" font-weight="bold" fill="#000" textLength="169.45" lengthAdjust="spacingAndGlyphs" >Experiment 1</text>
<text x="1265.83" y="1241.7" font-size="28.6" font-weight="bold" fill="#000" textLength="174.45" lengthAdjust="spacingAndGlyphs" >Experiment 2</text>
</svg></body></html>
